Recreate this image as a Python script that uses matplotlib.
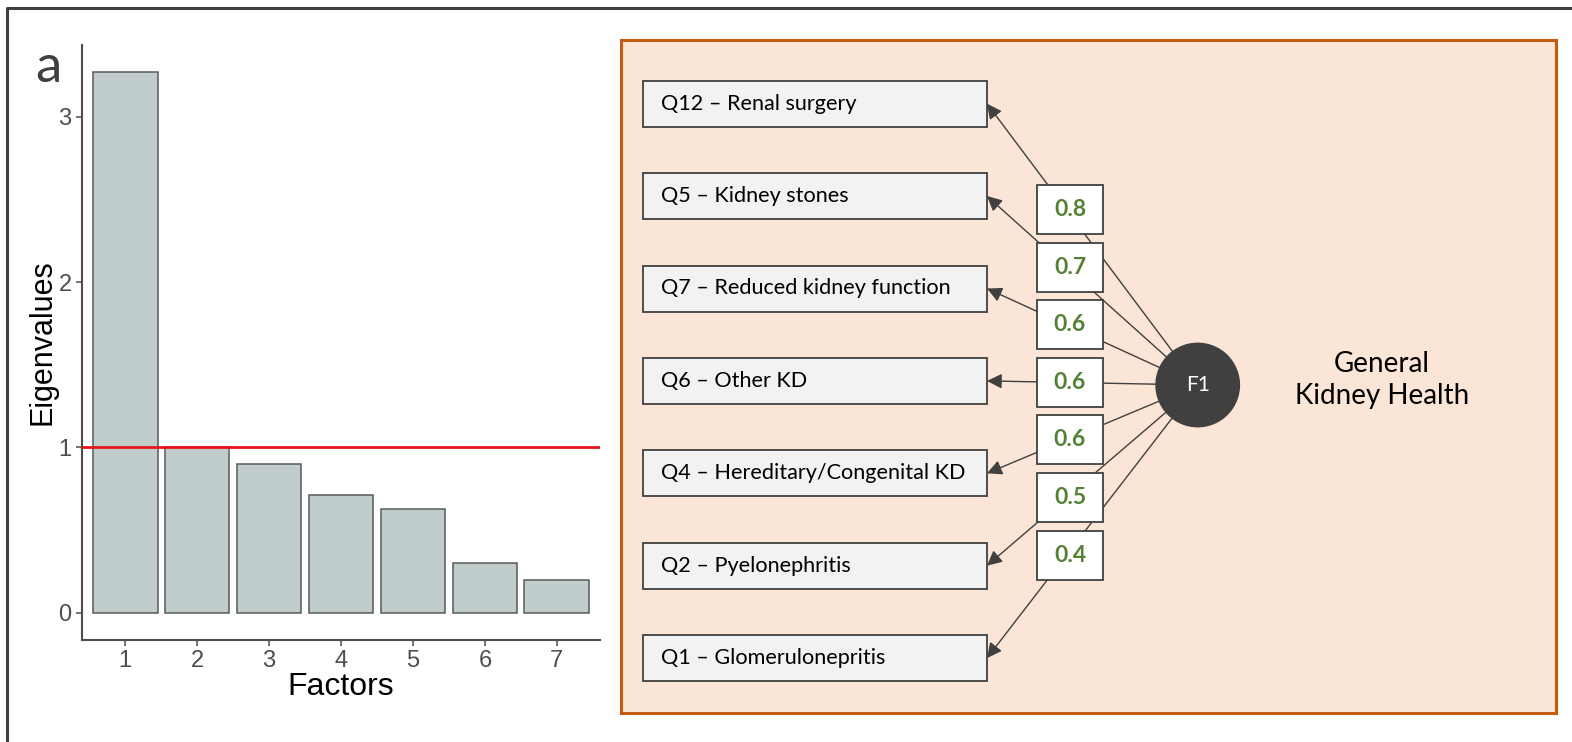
import numpy as np
import matplotlib
matplotlib.use("Agg")
import matplotlib.pyplot as plt
from matplotlib.patches import Rectangle, Circle

# scree plot data
factors = [1, 2, 3, 4, 5, 6, 7]
eigenvalues = [3.27, 1.0, 0.90, 0.71, 0.63, 0.30, 0.20]
kaiser_cut = 1.0

# one-factor model data
items = ["Q12 \u2013 Renal surgery", "Q5 \u2013 Kidney stones", "Q7 \u2013 Reduced kidney function",
         "Q6 \u2013 Other KD", "Q4 \u2013 Hereditary/Congenital KD", "Q2 \u2013 Pyelonephritis",
         "Q1 \u2013 Glomerulonepritis"]
loadings = [0.8, 0.7, 0.6, 0.6, 0.6, 0.5, 0.4]
factor_name = "F1"
factor_label = "General\nKidney Health"

W, H = 1572, 742
fig = plt.figure(figsize=(W / 100, H / 100), dpi=100)
fig.patch.set_facecolor("white")

# ---- panel a: scree plot ----
ax = fig.add_axes([82 / W, 1 - 640 / H, 518 / W, 595 / H])
ax.bar(factors, eigenvalues, width=0.9, color="#C1CDCD", edgecolor="#5A5A5A", linewidth=1.1, zorder=2)
ax.axhline(kaiser_cut, color="#E8141C", linewidth=2, zorder=3)
ax.set_xlim(0.4, 7.6)
ax.set_ylim(-0.165, 3.435)
ax.set_xticks(factors)
ax.set_yticks([0, 1, 2, 3])
for s in ["top", "right"]:
    ax.spines[s].set_visible(False)
for s in ["left", "bottom"]:
    ax.spines[s].set_color("#4D4D4D")
    ax.spines[s].set_linewidth(1.5)
ax.tick_params(colors="#4D4D4D", labelsize=17, length=4, width=1.1)
ax.tick_params(axis="x", pad=3)
for lab in ax.get_xticklabels() + ax.get_yticklabels():
    lab.set_family("Liberation Sans")
ax.set_xlabel("Factors", fontsize=23, family="Liberation Sans", labelpad=0)
ax.set_ylabel("Eigenvalues", fontsize=22, family="Liberation Sans", labelpad=1)

# ---- overlay in pixel coordinates for the diagram ----
ov = fig.add_axes([0, 0, 1, 1], facecolor="none")
ov.set_xlim(0, W)
ov.set_ylim(H, 0)
ov.axis("off")

# outer frame
ov.plot([7, 7, W + 5], [H + 5, 8, 8], color="#404040", linewidth=2.2, solid_capstyle="butt")
ov.text(48, 68, "a", fontsize=38, family="Lato", color="#404040", ha="center", va="center")

# orange panel
ov.add_patch(Rectangle((621, 40), 935, 673, facecolor="#FBE5D6", edgecolor="#C55A11", linewidth=2.2, zorder=0))

font = "Lato"
box_x0, box_x1 = 643, 987
box_top, box_step, box_h = 80.7, 92.4, 46
ld_x0, ld_w, ld_top, ld_step, ld_h = 1037, 66, 185, 57.6, 49
cx, cy, r = 1197.7, 385, 41.7

for i, name in enumerate(items):
    y0 = box_top + i * box_step
    ov.add_patch(Rectangle((box_x0, y0), box_x1 - box_x0, box_h, facecolor="#F2F2F2",
                           edgecolor="#404040", linewidth=1.3, zorder=2))
    ov.text(661, y0 + box_h / 2, name, fontsize=15.6, family=font, color="black",
            ha="left", va="center", zorder=4)
    # arrow from factor to item
    tip = np.array([box_x1, y0 + box_h / 2])
    d = tip - np.array([cx, cy])
    start = np.array([cx, cy]) + d / np.hypot(*d) * r
    ov.annotate("", xy=tip, xytext=start, zorder=1,
                arrowprops=dict(arrowstyle="-|>,head_length=0.9,head_width=0.45", mutation_scale=10,
                                color="#404040", lw=1, shrinkA=0, shrinkB=0))

for i, v in enumerate(loadings):
    y0 = ld_top + i * ld_step
    ov.add_patch(Rectangle((ld_x0, y0), ld_w, ld_h, facecolor="white", edgecolor="#404040",
                           linewidth=1.3, zorder=3))
    ov.text(ld_x0 + ld_w / 2, y0 + ld_h / 2, f"{v:.1f}", fontsize=16.5, family=font, weight="bold",
            color="#548235", ha="center", va="center", zorder=4)

ov.add_patch(Circle((cx, cy), r, facecolor="#404040", edgecolor="#404040", zorder=3))
ov.text(cx, cy, factor_name, fontsize=15, family=font, color="white", ha="center", va="center", zorder=4)
ov.text(1382, 380, factor_label, fontsize=20, family=font, color="black", ha="center", va="center",
        linespacing=1.3, zorder=4)

fig.savefig("out.png", dpi=100)
